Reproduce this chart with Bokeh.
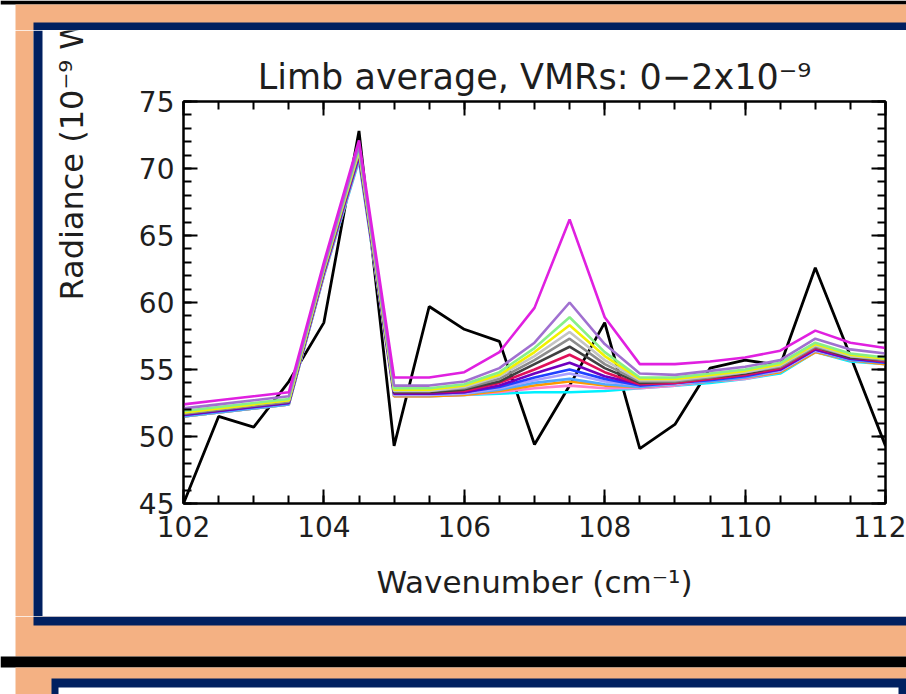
import numpy as np
from bokeh.plotting import figure
from bokeh.layouts import row, column
from bokeh.models import Range1d, LinearAxis, FixedTicker, CustomJSTickFormatter
from bokeh.core.properties import value
from bokeh.embed import file_html
from bokeh.resources import INLINE

# ---------------- data ----------------
wavenumber = [102.0, 102.5, 103.0, 103.5, 104.0, 104.5, 105.0, 105.5, 106.0, 106.5, 107.0,
              107.5, 108.0, 108.5, 109.0, 109.5, 110.0, 110.5, 111.0, 111.5, 112.0]

observed = [45.0, 51.5, 50.7, 54.1, 58.5, 72.8, 49.3, 59.7, 58.0, 57.1, 49.4,
            53.8, 58.5, 49.1, 50.9, 55.1, 55.7, 55.3, 62.6, 56.0, 49.3]

# model spectra, highest VMR first
vmr_magenta  = [52.4, 52.7, 53.0, 53.3, 63.0, 72.1, 54.4, 54.4, 54.8, 56.3, 59.6, 66.2, 58.9, 55.4, 55.4, 55.6, 55.9, 56.4, 57.9, 57.0, 56.6]
vmr_purple   = [52.1, 52.4, 52.7, 53.0, 62.7, 71.7, 53.8, 53.8, 54.1, 55.1, 57.0, 60.0, 56.9, 54.7, 54.6, 54.9, 55.2, 55.7, 57.3, 56.5, 56.2]
vmr_green    = [51.9, 52.2, 52.5, 52.8, 62.6, 71.5, 53.6, 53.6, 53.9, 54.8, 56.6, 58.9, 56.3, 54.4, 54.4, 54.7, 55.0, 55.5, 57.0, 56.2, 55.9]
vmr_yellow   = [51.8, 52.1, 52.4, 52.7, 62.5, 71.4, 53.5, 53.5, 53.8, 54.6, 56.3, 58.3, 56.0, 54.3, 54.3, 54.6, 54.9, 55.4, 56.9, 56.1, 55.8]
vmr_ltgray   = [51.8, 52.1, 52.4, 52.7, 62.5, 71.3, 53.4, 53.4, 53.7, 54.5, 56.0, 57.8, 55.7, 54.2, 54.2, 54.5, 54.8, 55.3, 56.8, 56.0, 55.8]
vmr_gray     = [51.7, 52.0, 52.3, 52.6, 62.4, 71.2, 53.4, 53.4, 53.6, 54.3, 55.7, 57.3, 55.4, 54.1, 54.1, 54.4, 54.8, 55.2, 56.7, 56.0, 55.7]
vmr_dkgray   = [51.7, 52.0, 52.3, 52.6, 62.4, 71.2, 53.3, 53.3, 53.5, 54.1, 55.4, 56.7, 55.1, 54.0, 54.1, 54.4, 54.7, 55.2, 56.7, 55.9, 55.7]
vmr_crimson  = [51.7, 52.0, 52.3, 52.6, 62.3, 71.1, 53.3, 53.3, 53.4, 54.0, 55.0, 56.1, 54.8, 53.9, 54.0, 54.3, 54.6, 55.1, 56.6, 55.9, 55.6]
vmr_violet   = [51.6, 51.9, 52.2, 52.5, 62.3, 71.0, 53.2, 53.2, 53.3, 53.8, 54.7, 55.5, 54.5, 53.9, 54.0, 54.3, 54.6, 55.0, 56.5, 55.8, 55.6]
vmr_blue     = [51.6, 51.9, 52.2, 52.5, 62.2, 70.9, 53.2, 53.2, 53.3, 53.7, 54.4, 55.0, 54.3, 53.8, 54.0, 54.2, 54.5, 55.0, 56.5, 55.8, 55.5]
vmr_lavender = [51.6, 51.9, 52.2, 52.5, 62.2, 70.9, 53.1, 53.1, 53.2, 53.6, 54.2, 54.7, 54.1, 53.8, 53.9, 54.2, 54.5, 54.9, 56.4, 55.8, 55.5]
vmr_skyblue  = [51.5, 51.8, 52.1, 52.4, 62.1, 70.8, 53.1, 53.1, 53.2, 53.5, 54.0, 54.3, 53.9, 53.7, 53.9, 54.1, 54.4, 54.9, 56.4, 55.7, 55.5]
vmr_orange   = [51.5, 51.8, 52.1, 52.4, 62.1, 70.8, 53.0, 53.0, 53.1, 53.4, 53.8, 54.1, 53.8, 53.7, 53.9, 54.1, 54.4, 54.8, 56.3, 55.7, 55.4]
vmr_pink     = [51.5, 51.8, 52.1, 52.4, 62.0, 70.7, 53.0, 53.0, 53.1, 53.3, 53.6, 53.8, 53.6, 53.6, 53.8, 54.1, 54.3, 54.8, 56.3, 55.7, 55.4]
vmr_cyan     = [51.5, 51.8, 52.1, 52.4, 62.0, 70.6, 53.0, 53.0, 53.1, 53.2, 53.3, 53.3, 53.4, 53.6, 53.8, 54.0, 54.3, 54.7, 56.3, 55.6, 55.4]

model_series = [vmr_cyan, vmr_pink, vmr_orange, vmr_skyblue, vmr_lavender, vmr_blue, vmr_violet,
                vmr_crimson, vmr_dkgray, vmr_gray, vmr_ltgray, vmr_yellow, vmr_green, vmr_purple, vmr_magenta]
model_colors = ["#00F0FF", "#FF80D0", "#FF9A00", "#50A8FF", "#A8A0FF", "#2040FF", "#7000C0",
                "#E0105A", "#404040", "#8C8C8C", "#C4C4C4", "#F2F200", "#88F088", "#A070D0", "#E020E0"]

x_ticks = [102, 104, 106, 108, 110, 112]
y_ticks = [45, 50, 55, 60, 65, 70, 75]
x_minor = list(np.arange(102.0, 112.01, 0.5))
y_minor = list(np.arange(45.0, 75.01, 1.0))

title_text = "Limb average, VMRs: 0\u22122x10\u207b\u2079"
xlabel_text = "Wavenumber (cm\u207b\u00b9)"
ylabel_text = "Radiance (10\u207b\u2079 W cm\u207b\u00b2 sr\u207b\u00b9/cm\u207b\u00b9)"

# ---------------- style constants ----------------
FONT = "DejaVu Sans"
TXT = "#1e1e1e"
SALMON = "#F4B183"
NAVY = "#002060"


def band(w, h, pieces):
    """slide-frame band: a figure whose frame is the whole canvas, in pixel units (y down)"""
    f = figure(width=w, height=h, x_range=Range1d(0, w), y_range=Range1d(h, 0),
               min_border=0, toolbar_location=None, output_backend="svg",
               x_axis_type=None, y_axis_type=None, outline_line_color=None,
               background_fill_color="white", border_fill_color="white", frame_align=False)
    f.grid.visible = False
    f.quad(left=[q[0] for q in pieces], top=[q[1] for q in pieces],
           right=[q[2] for q in pieces], bottom=[q[3] for q in pieces],
           fill_color=[q[4] for q in pieces], line_color=None)
    return f


# ---------------- main chart: window x 100-906, y 30-616 ----------------
MW, MH = 806, 586
p = figure(width=MW, height=MH, x_range=Range1d(102, 112), y_range=Range1d(45, 75),
           output_backend="svg", toolbar_location=None, frame_align=False,
           min_border_left=83, min_border_right=21, min_border_top=71, min_border_bottom=113,
           background_fill_color="white", border_fill_color="white",
           outline_line_color="black", outline_line_width=2)
p.grid.visible = False

p.title.text = title_text
p.title.align = "center"
p.title.text_font = FONT
p.title.text_font_size = "35px"
p.title.text_font_style = "normal"
p.title.text_color = TXT
p.title.standoff = 9

for ax in (p.xaxis[0], p.yaxis[0]):
    ax.major_tick_in = 14
    ax.major_tick_out = 0
    ax.minor_tick_in = 8
    ax.minor_tick_out = 0
    ax.axis_line_width = 2
    ax.major_tick_line_width = 2
    ax.minor_tick_line_width = 2
    ax.major_label_text_font = FONT
    ax.major_label_text_font_size = "28px"
    ax.major_label_text_color = TXT

p.xaxis[0].ticker = FixedTicker(ticks=x_ticks, minor_ticks=x_minor)
p.yaxis[0].ticker = FixedTicker(ticks=y_ticks, minor_ticks=y_minor)
p.xaxis[0].major_label_standoff = 12
p.yaxis[0].major_label_standoff = 9
p.xaxis[0].axis_label = xlabel_text
p.xaxis[0].axis_label_text_font = FONT
p.xaxis[0].axis_label_text_font_size = "31px"
p.xaxis[0].axis_label_text_font_style = "normal"
p.xaxis[0].axis_label_text_color = TXT
p.xaxis[0].axis_label_standoff = 24

blank = CustomJSTickFormatter(code="return ''")
for ticks, minor, side in ((x_ticks, x_minor, "above"), (y_ticks, y_minor, "right")):
    ax = LinearAxis(ticker=FixedTicker(ticks=ticks, minor_ticks=minor), formatter=blank,
                    major_label_text_color=None, major_label_standoff=0,
                    major_tick_in=14, major_tick_out=0, minor_tick_in=8, minor_tick_out=0,
                    axis_line_width=2, major_tick_line_width=2, minor_tick_line_width=2)
    p.add_layout(ax, side)

p.line(wavenumber, observed, line_color="black", line_width=2.8)
for ys, c in zip(model_series, model_colors):
    p.line(wavenumber, ys, line_color=c, line_width=2.6)

# ---------------- slide frame bands ----------------
top_band = band(906, 30, [
    (0, 0, 906, 4, "black"),
    (15, 4, 906, 30, SALMON),
    (33, 22, 906, 30, NAVY),
])
# left band also carries the y label, which runs off the top of the white box (clipped)
left_band = band(100, MH, [
    (15, 0, 33, MH, SALMON),
    (33, 0, 42, MH, NAVY),
])
left_band.text(x=[71], y=[270], text=[ylabel_text], angle=np.pi / 2,
               text_align="left", text_baseline="middle", text_font=value(FONT),
               text_font_size=value("32px"), text_color=TXT)
bottom_band = band(906, 78, [
    (15, 0, 906, 40, SALMON),
    (33, 0, 906, 9, NAVY),
    (0, 40, 906, 51, "black"),
    (15, 51, 906, 78, SALMON),
    (51, 62, 906, 78, NAVY),
    (58, 71, 898, 78, "white"),
])

page = column(top_band, row(left_band, p), bottom_band)

open("out.html", "w").write(file_html(page, INLINE))
